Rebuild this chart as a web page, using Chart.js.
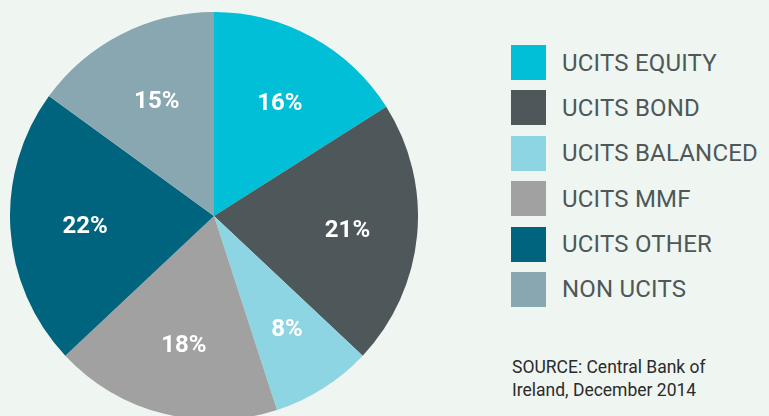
<!DOCTYPE html>
<html>
<head>
<meta charset="utf-8">
<script src="https://cdn.jsdelivr.net/npm/chart.js@4"></script>
<style>
  html, body { margin: 0; padding: 0; width: 769px; height: 416px; overflow: hidden; background: #eff6f1; }
  #pieBox { position: absolute; left: 10px; top: 12px; width: 408px; height: 408px; }
  #legend { position: absolute; left: 511px; top: 45px; margin: 0; padding: 0; list-style: none; }
  #legend li { height: 35px; margin-bottom: 10.4px; display: flex; align-items: center; }
  #legend .box { width: 35px; height: 35px; margin-right: 16px; }
  #legend .txt { font-family: Roboto, sans-serif; font-size: 24px; color: #4e5858; letter-spacing: 0.2px; }
  #source { position: absolute; left: 512px; top: 356px; font-family: Roboto, sans-serif; font-size: 17.5px; line-height: 22.7px; color: #2b2b2b; }
</style>
</head>
<body>
<div id="pieBox"><canvas id="pieChart" width="408" height="408"></canvas></div>
<ul id="legend"></ul>
<div id="source">SOURCE: Central Bank of<br>Ireland, December 2014</div>
<script>
// 데이터
const categories = ['UCITS EQUITY', 'UCITS BOND', 'UCITS BALANCED', 'UCITS MMF', 'UCITS OTHER', 'NON UCITS'];
const shares = [16, 21, 8, 18, 22, 15];
const colors = ['#00bfd7', '#4e5759', '#8ed5e3', '#a0a1a0', '#00647e', '#89a7b1'];

// 퍼센트 라벨
const pctLabels = {
  id: 'pctLabels',
  afterDatasetsDraw(chart) {
    const ctx = chart.ctx;
    const meta = chart.getDatasetMeta(0);
    ctx.save();
    ctx.fillStyle = '#ffffff';
    ctx.font = "bold 24px Roboto, sans-serif";
    ctx.textAlign = 'center';
    ctx.textBaseline = 'middle';
    meta.data.forEach(function (arc, i) {
      const p = arc.getProps(['x', 'y', 'startAngle', 'endAngle', 'outerRadius'], true);
      const mid = (p.startAngle + p.endAngle) / 2;
      const r = p.outerRadius * 0.645;
      ctx.fillText(chart.data.datasets[0].data[i] + '%', p.x + Math.cos(mid) * r + 2.5, p.y + Math.sin(mid) * r + 3);
    });
    ctx.restore();
  }
};

const ctx = document.getElementById('pieChart').getContext('2d');
const myChart = new Chart(ctx, {
  type: 'pie',
  data: {
    labels: categories,
    datasets: [{
      data: shares,
      backgroundColor: colors,
      borderWidth: 0,
      hoverOffset: 0,
      offset: 0
    }]
  },
  options: {
    responsive: false,
    animation: false,
    layout: { padding: 0 },
    plugins: {
      legend: { display: false },
      tooltip: { enabled: false }
    }
  },
  plugins: [pctLabels]
});

// 범례
const legend = document.getElementById('legend');
myChart.data.labels.forEach(function (label, i) {
  const li = document.createElement('li');
  li.innerHTML = '<span class="box" style="background:' + myChart.data.datasets[0].backgroundColor[i] + '"></span><span class="txt">' + label + '</span>';
  legend.appendChild(li);
});
</script>
</body>
</html>
